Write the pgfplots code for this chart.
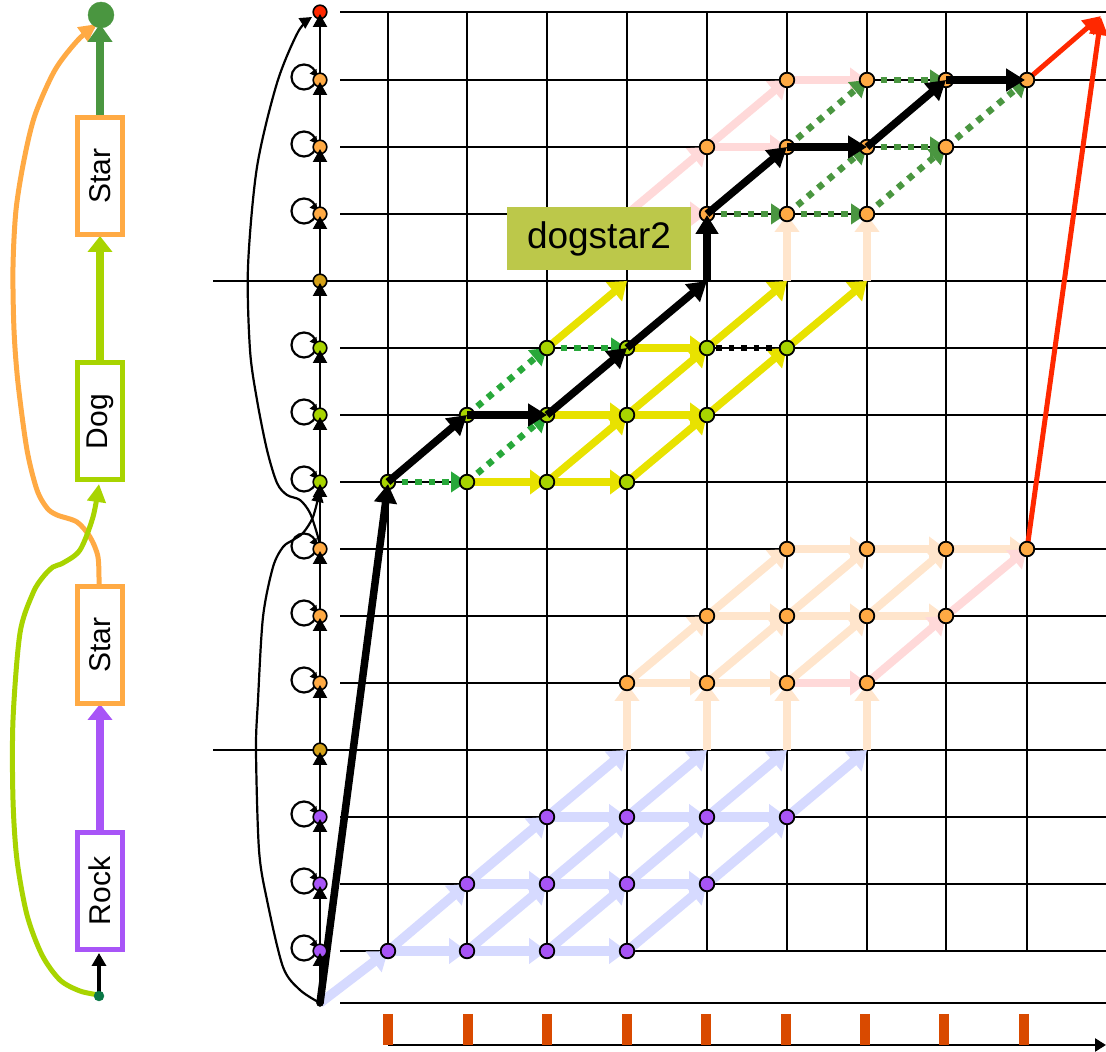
\documentclass[border=0pt]{standalone}
\usepackage{pgfplots}
\pgfplotsset{compat=1.18}
\usetikzlibrary{arrows.meta}
\usepackage{fontspec}
\setmainfont{Liberation Sans}

\definecolor{lav}{RGB}{214,218,255}
\definecolor{peach}{RGB}{255,229,204}
\definecolor{pinkl}{RGB}{255,217,217}
\definecolor{yel}{RGB}{232,226,0}
\definecolor{purp}{RGB}{168,85,247}
\definecolor{orn}{RGB}{255,170,68}
\definecolor{ygr}{RGB}{168,212,0}
\definecolor{goldn}{RGB}{212,160,23}
\definecolor{redd}{RGB}{255,40,0}
\definecolor{dgr}{RGB}{74,150,64}
\definecolor{bgr}{RGB}{40,168,58}
\definecolor{olivebox}{RGB}{188,200,74}
\definecolor{tickor}{RGB}{217,74,0}
\definecolor{startg}{RGB}{10,120,70}

\tikzset{
 gridl/.style={black, line width=2.3pt},
 lavA/.style={color=lav, line width=9.5pt, -{Triangle[length=18pt,width=25pt]}},
 peachA/.style={color=peach, line width=8pt, -{Triangle[length=17pt,width=24pt]}},
 pinkA/.style={color=pinkl, line width=8pt, -{Triangle[length=17pt,width=24pt]}},
 yelA/.style={color=yel, line width=7.5pt, -{Triangle[length=17pt,width=24pt]}},
 gdot/.style={color=dgr, line width=6.5pt, dash pattern=on 6.5pt off 7pt, -{Triangle[length=16pt,width=20pt]}},
 bgdot/.style={color=bgr, line width=6.5pt, dash pattern=on 6.5pt off 7pt, -{Triangle[length=16pt,width=20pt]}},
 kdot/.style={color=black, line width=5.5pt, dash pattern=on 5.5pt off 7pt},
 blk/.style={color=black, line width=7.5pt, -{Triangle[length=19pt,width=22pt]}},
 redA/.style={color=redd, line width=5pt, -{Triangle[length=18pt,width=18pt]}},
 chain/.style={black, line width=2.2pt, -{Triangle[length=13pt,width=14pt]}},
 looparr/.style={black, line width=1.5pt, -{Triangle[length=7pt,width=8pt]}},
}
\newcommand{\E}[5]{\addplot[#1] coordinates {(#2,-#3) (#4,-#5)};}

\begin{document}
\begin{tikzpicture}
\begin{axis}[scale only axis, width=1106pt, height=1052pt,
  xmin=0, xmax=1106, ymin=-1052, ymax=0, enlargelimits=false,
  hide axis, clip marker paths=true]

% ---------------- grid ----------------
\E{gridl}{340}{12}{1106}{12}
\E{gridl}{340}{80}{1106}{80}
\E{gridl}{340}{147}{1106}{147}
\E{gridl}{340}{214}{1106}{214}
\E{gridl}{213}{281}{1106}{281}
\E{gridl}{340}{348}{1106}{348}
\E{gridl}{340}{415}{1106}{415}
\E{gridl}{340}{482}{1106}{482}
\E{gridl}{340}{549}{1106}{549}
\E{gridl}{340}{616}{1106}{616}
\E{gridl}{340}{683}{1106}{683}
\E{gridl}{213}{750}{1106}{750}
\E{gridl}{340}{817}{1106}{817}
\E{gridl}{340}{884}{1106}{884}
\E{gridl}{340}{951}{1106}{951}
\E{gridl}{340}{1003}{1106}{1003}
\E{gridl}{388}{12}{388}{951}
\E{gridl}{467}{12}{467}{951}
\E{gridl}{547}{12}{547}{951}
\E{gridl}{627}{12}{627}{951}
\E{gridl}{707}{12}{707}{951}
\E{gridl}{787}{12}{787}{951}
\E{gridl}{867}{12}{867}{951}
\E{gridl}{946}{12}{946}{951}
\E{gridl}{1027}{12}{1027}{951}

% bottom axis and ticks
\E{black, line width=2.5pt, -{Triangle[length=11pt,width=13pt]}}{388}{1045}{1106}{1045}
\E{tickor, line width=10pt}{388}{1014}{388}{1045}
\E{tickor, line width=10pt}{468}{1014}{468}{1045}
\E{tickor, line width=10pt}{547}{1014}{547}{1045}
\E{tickor, line width=10pt}{627}{1014}{627}{1045}
\E{tickor, line width=10pt}{706}{1014}{706}{1045}
\E{tickor, line width=10pt}{786}{1014}{786}{1045}
\E{tickor, line width=10pt}{865}{1014}{865}{1045}
\E{tickor, line width=10pt}{944}{1014}{944}{1045}
\E{tickor, line width=10pt}{1024}{1014}{1024}{1045}

% ---------------- column 0 arcs and loops ----------------
\addplot[black, line width=2.2pt, smooth, -{Triangle[length=12pt,width=12pt]}] coordinates {
 (320,-1003) (300,-990) (283,-967) (267,-900) (259,-850) (256,-750) (258,-700)
 (263,-617) (273,-567) (283,-547) (293,-540) (303,-533) (313,-517) (320,-490)};
\addplot[black, line width=2.2pt, smooth, -{Triangle[length=12pt,width=12pt]}] coordinates {
 (320,-549) (318,-537) (310,-513) (300,-500) (287,-495) (277,-483) (267,-450)
 (257,-400) (250,-350) (248,-267) (257,-167) (277,-83) (298,-32) (312,-17)};
\addplot[only marks, mark=o, mark size=12.5, mark options={line width=2.2pt, draw=black}] coordinates {
 (304,-948) (304,-881) (304,-814) (304,-680) (304,-613) (304,-546)
 (304,-479) (304,-412) (304,-345) (304,-211) (304,-144) (304,-77)};
\E{looparr}{313}{942}{317}{948}
\E{looparr}{313}{875}{317}{881}
\E{looparr}{313}{808}{317}{814}
\E{looparr}{313}{674}{317}{680}
\E{looparr}{313}{607}{317}{613}
\E{looparr}{313}{540}{317}{546}
\E{looparr}{313}{473}{317}{479}
\E{looparr}{313}{406}{317}{412}
\E{looparr}{313}{339}{317}{345}
\E{looparr}{313}{205}{317}{211}
\E{looparr}{313}{138}{317}{144}
\E{looparr}{313}{71}{317}{77}

% ---------------- Rock block (lavender) ----------------
\E{peachA}{627}{750}{627}{684}
\E{peachA}{707}{750}{707}{684}
\E{peachA}{787}{750}{787}{684}
\E{peachA}{867}{750}{867}{684}
\E{lavA}{320}{1003}{388}{951}
\E{lavA}{388}{951}{467}{951}
\E{lavA}{467}{951}{547}{951}
\E{lavA}{547}{951}{627}{951}
\E{lavA}{467}{884}{547}{884}
\E{lavA}{547}{884}{627}{884}
\E{lavA}{627}{884}{707}{884}
\E{lavA}{547}{817}{627}{817}
\E{lavA}{627}{817}{707}{817}
\E{lavA}{707}{817}{787}{817}
\E{lavA}{388}{951}{467}{884}
\E{lavA}{467}{951}{547}{884}
\E{lavA}{547}{951}{627}{884}
\E{lavA}{627}{951}{707}{884}
\E{lavA}{467}{884}{547}{817}
\E{lavA}{547}{884}{627}{817}
\E{lavA}{627}{884}{707}{817}
\E{lavA}{707}{884}{787}{817}
\E{lavA}{547}{817}{627}{750}
\E{lavA}{627}{817}{707}{750}
\E{lavA}{707}{817}{787}{750}
\E{lavA}{787}{817}{867}{750}

% ---------------- Star block 1 (peach / pink) ----------------
\E{peachA}{627}{683}{707}{683}
\E{peachA}{707}{683}{787}{683}
\E{pinkA}{787}{683}{867}{683}
\E{peachA}{707}{616}{787}{616}
\E{peachA}{787}{616}{867}{616}
\E{peachA}{867}{616}{946}{616}
\E{peachA}{787}{549}{867}{549}
\E{peachA}{867}{549}{946}{549}
\E{peachA}{946}{549}{1027}{549}
\E{peachA}{627}{683}{707}{616}
\E{peachA}{707}{683}{787}{616}
\E{peachA}{787}{683}{867}{616}
\E{pinkA}{867}{683}{946}{616}
\E{peachA}{707}{616}{787}{549}
\E{peachA}{787}{616}{867}{549}
\E{peachA}{867}{616}{946}{549}
\E{pinkA}{946}{616}{1027}{549}

% ---------------- Dog block (yellow) ----------------
\E{yelA}{467}{482}{547}{482}
\E{yelA}{547}{482}{627}{482}
\E{yelA}{547}{415}{627}{415}
\E{yelA}{627}{415}{707}{415}
\E{yelA}{627}{348}{707}{348}
\E{yelA}{547}{482}{627}{415}
\E{yelA}{627}{482}{707}{415}
\E{yelA}{627}{415}{707}{348}
\E{yelA}{707}{415}{787}{348}
\E{yelA}{547}{348}{627}{281}
\E{yelA}{707}{348}{787}{281}
\E{yelA}{787}{348}{867}{281}

% ---------------- Star block 2 ----------------
\E{peachA}{787}{281}{787}{215}
\E{peachA}{867}{281}{867}{215}
\E{pinkA}{627}{214}{707}{214}
\E{pinkA}{627}{214}{707}{147}
\E{pinkA}{707}{147}{787}{147}
\E{pinkA}{707}{147}{787}{80}
\E{pinkA}{787}{80}{867}{80}

% dotted
\E{bgdot}{388}{482}{467}{482}
\E{bgdot}{467}{482}{547}{415}
\E{bgdot}{467}{415}{547}{348}
\E{bgdot}{547}{348}{627}{348}
\E{kdot}{716}{348}{780}{348}
\E{gdot}{707}{214}{787}{214}
\E{gdot}{787}{214}{867}{214}
\E{gdot}{787}{214}{867}{147}
\E{gdot}{867}{214}{946}{147}
\E{gdot}{867}{147}{946}{147}
\E{gdot}{787}{147}{867}{80}
\E{gdot}{946}{147}{1027}{80}
\E{gdot}{867}{80}{946}{80}

% red
\E{redA}{1027}{80}{1101}{16}
\E{redA}{1027}{549}{1101}{17}

% ---------------- trellis nodes ----------------
\addplot[only marks, mark=*, mark size=7.3, mark options={fill=purp, draw=black, line width=1.8pt}] coordinates {
 (388,-951) (467,-951) (547,-951) (627,-951) (467,-884) (547,-884) (627,-884) (707,-884)
 (547,-817) (627,-817) (707,-817) (787,-817)};
\addplot[only marks, mark=*, mark size=7.3, mark options={fill=orn, draw=black, line width=1.8pt}] coordinates {
 (627,-683) (707,-683) (787,-683) (867,-683) (707,-616) (787,-616) (867,-616) (946,-616)
 (787,-549) (867,-549) (946,-549) (1027,-549)
 (707,-214) (787,-214) (867,-214) (707,-147) (787,-147) (867,-147) (946,-147)
 (787,-80) (867,-80) (946,-80) (1027,-80)};
\addplot[only marks, mark=*, mark size=7.3, mark options={fill=ygr, draw=black, line width=1.8pt}] coordinates {
 (388,-482) (467,-482) (547,-482) (627,-482) (467,-415) (547,-415) (627,-415) (707,-415)
 (547,-348) (627,-348) (707,-348) (787,-348)};
\addplot[only marks, mark=*, mark size=7.3, mark options={fill=redd, draw=black, line width=1.8pt}] coordinates {(1107,-12)};

% ---------------- best path (black) ----------------
\E{blk}{320}{1003}{388}{484}
\E{blk}{388}{482}{467}{415}
\E{blk}{467}{415}{547}{415}
\E{blk}{547}{415}{627}{348}
\E{blk}{627}{348}{707}{281}
\E{blk}{707}{281}{707}{215}
\E{blk}{707}{214}{787}{147}
\E{blk}{787}{147}{867}{147}
\E{blk}{867}{147}{946}{80}
\E{blk}{946}{80}{1025}{80}

% ---------------- column 0 nodes and chain ----------------
\addplot[only marks, mark=*, mark size=6.8, mark options={fill=purp, draw=black, line width=1.6pt}] coordinates {(320,-951) (320,-884) (320,-817)};
\addplot[only marks, mark=*, mark size=6.8, mark options={fill=goldn, draw=black, line width=1.6pt}] coordinates {(320,-750) (320,-281)};
\addplot[only marks, mark=*, mark size=6.8, mark options={fill=orn, draw=black, line width=1.6pt}] coordinates {(320,-683) (320,-616) (320,-549) (320,-214) (320,-147) (320,-80)};
\addplot[only marks, mark=*, mark size=6.8, mark options={fill=ygr, draw=black, line width=1.6pt}] coordinates {(320,-482) (320,-415) (320,-348)};
\addplot[only marks, mark=*, mark size=6.8, mark options={fill=redd, draw=black, line width=1.6pt}] coordinates {(320,-12)};
\addplot[only marks, mark=*, mark size=3.5, black] coordinates {(320,-1003)};
\E{chain}{320}{1003}{320}{953}
\E{chain}{320}{945}{320}{886}
\E{chain}{320}{878}{320}{819}
\E{chain}{320}{811}{320}{752}
\E{chain}{320}{744}{320}{685}
\E{chain}{320}{677}{320}{618}
\E{chain}{320}{610}{320}{551}
\E{chain}{320}{543}{320}{484}
\E{chain}{320}{476}{320}{417}
\E{chain}{320}{409}{320}{350}
\E{chain}{320}{342}{320}{283}
\E{chain}{320}{275}{320}{216}
\E{chain}{320}{208}{320}{149}
\E{chain}{320}{141}{320}{82}
\E{chain}{320}{74}{320}{14}

% ---------------- left state graph ----------------
\addplot[orn, line width=5pt, smooth, -{Triangle[length=18pt,width=17pt]}] coordinates {
 (99,-586) (98,-557) (90,-537) (77,-522) (57,-515) (47,-508) (37,-490) (27,-450)
 (18,-383) (14,-330) (13,-267) (16,-210) (24,-160) (35,-115) (55,-70) (78,-40) (97,-24)};
\addplot[ygr, line width=5pt, smooth, -{Triangle[length=18pt,width=18pt]}] coordinates {
 (99,-995) (80,-991) (60,-980) (42,-955) (27,-915) (17,-860) (13,-800) (13,-720)
 (20,-633) (33,-593) (43,-577) (53,-567) (63,-563) (80,-550) (93,-517) (99,-484)};
\E{black, line width=4.5pt, -{Triangle[length=13pt,width=14pt]}}{99}{995}{99}{953}
\E{purp, line width=7.5pt, -{Triangle[length=16pt,width=24pt]}}{100}{830}{100}{704}
\E{ygr, line width=7.5pt, -{Triangle[length=16pt,width=24pt]}}{100}{362}{100}{236}
\E{dgr, line width=7.5pt, -{Triangle[length=18pt,width=24pt]}}{100}{116}{100}{24}
\addplot[only marks, mark=*, mark size=13, dgr] coordinates {(101,-15)};
\addplot[only marks, mark=*, mark size=5, startg] coordinates {(99,-996)};

\node[draw=purp, line width=5pt, fill=white, rotate=90, minimum width=117pt, minimum height=45pt, inner sep=0pt, font=\fontsize{30}{32}\selectfont] at (axis cs:100,-891) {Rock};
\node[draw=orn, line width=5pt, fill=white, rotate=90, minimum width=117pt, minimum height=45pt, inner sep=0pt, font=\fontsize{30}{32}\selectfont] at (axis cs:100,-645) {Star};
\node[draw=ygr, line width=5pt, fill=white, rotate=90, minimum width=117pt, minimum height=45pt, inner sep=0pt, font=\fontsize{30}{32}\selectfont] at (axis cs:100,-421.5) {Dog};
\node[draw=orn, line width=5pt, fill=white, rotate=90, minimum width=117pt, minimum height=45pt, inner sep=0pt, font=\fontsize{30}{32}\selectfont] at (axis cs:100,-176) {Star};

\node[fill=olivebox, minimum width=184pt, minimum height=63pt, inner sep=0pt, font=\fontsize{37}{40}\selectfont] at (axis cs:599,-239) {dogstar2};
\end{axis}
\pgfresetboundingbox
\path (current axis.south west) rectangle (current axis.north east);
\end{tikzpicture}
\end{document}
